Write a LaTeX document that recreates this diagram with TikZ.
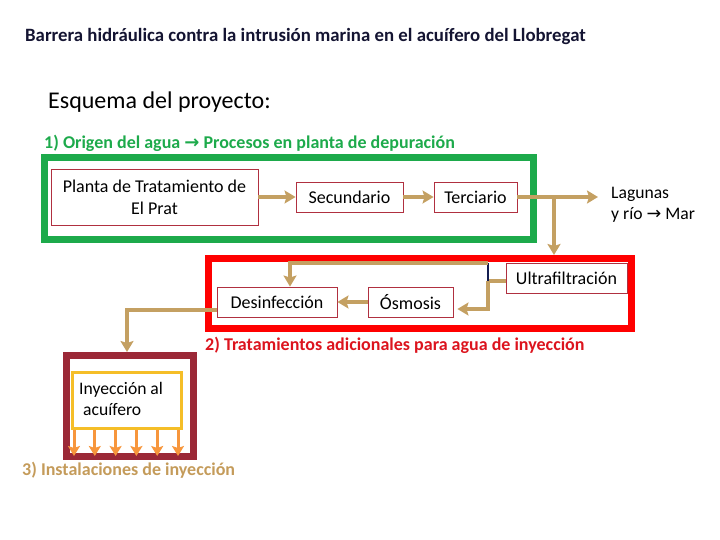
\documentclass[tikz,border=0pt]{standalone}
\usepackage{fontspec}
\setmainfont{Carlito}
\newfontfamily\arrowfont{DejaVu Sans}
\usetikzlibrary{arrows.meta,calc}
\definecolor{tan}{RGB}{196,160,98}
\definecolor{boxred}{RGB}{176,48,64}
\definecolor{grn}{RGB}{29,170,75}
\definecolor{hred}{RGB}{220,20,30}
\definecolor{maroon}{RGB}{155,40,55}
\definecolor{yel}{RGB}{245,190,40}
\definecolor{org}{RGB}{247,150,60}
\definecolor{navy}{RGB}{20,30,80}
\definecolor{ttl}{RGB}{20,20,50}
\definecolor{htan}{RGB}{196,155,90}
\tikzset{
  procbox/.style={draw=boxred, line width=0.9pt, inner sep=0pt, font=\fontsize{18}{22}\selectfont},
  flow/.style={draw=tan, line width=4.5pt},
  flowarrow/.style={flow, -{Stealth[length=11pt,width=13pt,inset=2pt]}},
  injarrow/.style={draw=org, line width=3pt, -{Stealth[length=10pt,width=12pt,inset=2pt]}},
  heading/.style={anchor=west, inner sep=0pt, font=\bfseries\fontsize{18}{22}\selectfont},
  plain/.style={anchor=west, inner sep=0pt, align=left, font=\fontsize{17.6}{21}\selectfont},
  frame/.style={line width=7pt}
}
\begin{document}
\begin{tikzpicture}[x=1pt,y=-1pt]
\useasboundingbox (0,0) rectangle (720,540);
% title
\node[anchor=west, inner sep=0pt, text=ttl, font=\bfseries\fontsize{18.8}{22}\selectfont] (title) at (25,36) {Barrera hidráulica contra la intrusión marina en el acuífero del Llobregat};
\node[anchor=west, inner sep=0pt, font=\fontsize{24}{28}\selectfont] (esq) at (48,102) {Esquema del proyecto:};
% frames
\draw[frame, grn] (44,158) rectangle (533,239);
\draw[frame, red] (208.5,258.5) rectangle (631.5,328.5);
\draw[frame, maroon] (66.5,355.5) rectangle (193.5,456.5);
% headings
\node[heading, text=grn] (h1) at (44,143) {1) Origen del agua {\arrowfont\bfseries →} Procesos en planta de depuración};
\node[heading, text=hred] (h2) at (205,345) {2) Tratamientos adicionales para agua de inyección};
\node[heading, text=htan] (h3) at (22,470) {3) Instalaciones de inyección};
% process boxes
\node[procbox, minimum width=207pt, minimum height=56pt, align=center] (planta) at (154.5,197) {Planta de Tratamiento de\\El Prat};
\node[procbox, minimum width=107pt, minimum height=30pt] (sec) at (349.5,197) {Secundario};
\node[procbox, minimum width=83pt, minimum height=30pt] (ter) at (475.5,197) {Terciario};
\node[plain] (lag) at (611,205) {Lagunas\\y río {\arrowfont →} Mar};
\node[procbox, minimum width=121pt, minimum height=30pt] (ultra) at (566.5,278) {Ultrafiltración};
\node[procbox, minimum width=120pt, minimum height=30pt] (desin) at (277,302) {Desinfección};
\node[procbox, minimum width=85pt, minimum height=30pt] (osmo) at (410.5,302) {Ósmosis};
\node[draw=yel, line width=3pt, minimum width=109pt, minimum height=56pt, inner sep=0pt] (iny) at (127,400.5) {};
\node[plain] (inytxt) at (79,398.5) {Inyección al\\\hspace*{4pt}acuífero};
% connectors
\coordinate (tj) at (554,197);
\coordinate (lagend) at (598,197);
\coordinate (uj) at (488,281);
\coordinate (ut) at (488,263);
\coordinate (oj) at (488,309);
\coordinate (dc) at (290,263);
\coordinate (lc) at (127,310);
\draw[flowarrow] (planta.east) -- (sec.west);
\draw[flowarrow] (sec.east) -- (ter.west);
\draw[flowarrow] (ter.east) -- (lagend);
\draw[flowarrow] (tj) -- (554,255);
\draw[flow] (ultra.west |- uj) -- (uj);
\draw[flowarrow] (uj) -- (oj) -- ([xshift=4pt]osmo.east |- oj);
\draw[draw=navy, line width=2.5pt] (ut) -- (uj);
\draw[flowarrow] (ut) -- (dc) -- (dc |- desin.north);
\draw[flowarrow] (osmo.west) -- (desin.east);
\draw[flowarrow] (desin.west |- lc) -- (lc) -- (127,352);
\foreach \i in {0,...,5} {
  \draw[injarrow] ($(iny.south west)+(3+20.8*\i,0)$) -- +(0,26);
}
\end{tikzpicture}
\end{document}
